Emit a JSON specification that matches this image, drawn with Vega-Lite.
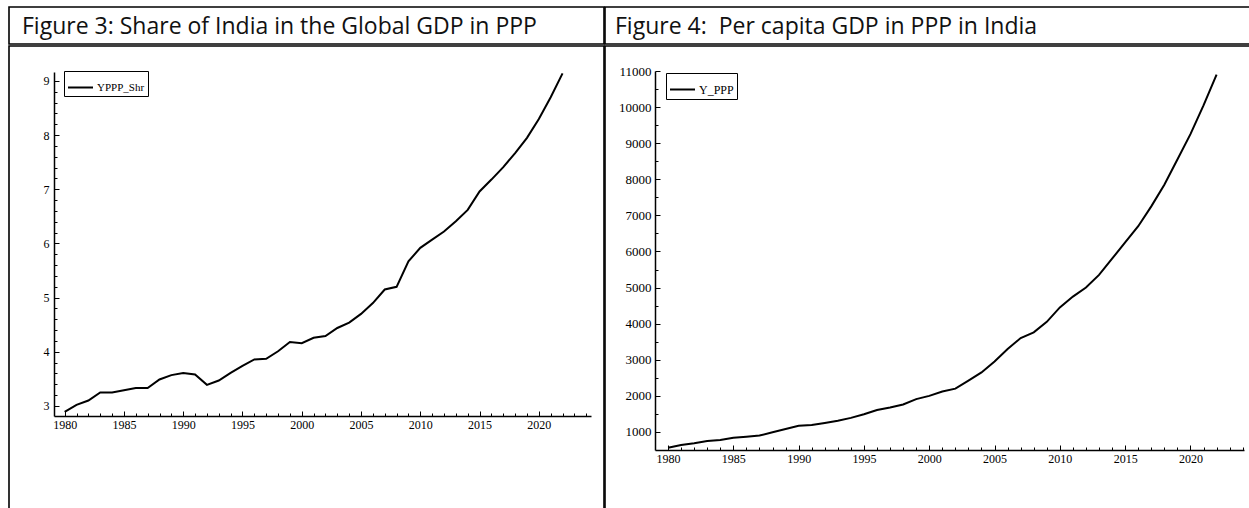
{
  "$schema": "https://vega.github.io/schema/vega-lite/v6.json",
  "padding": {"left": 8, "top": 6, "right": 0, "bottom": 0},
  "background": "white",
  "config": {
    "view": {"stroke": "black", "strokeWidth": 1.6},
    "font": "Liberation Serif"
  },
  "datasets": {
    "india": [
      {"year": 1980, "shr": 2.89, "ppp": 560},
      {"year": 1981, "shr": 3.02, "ppp": 640},
      {"year": 1982, "shr": 3.10, "ppp": 690},
      {"year": 1983, "shr": 3.25, "ppp": 750},
      {"year": 1984, "shr": 3.25, "ppp": 780},
      {"year": 1985, "shr": 3.29, "ppp": 840},
      {"year": 1986, "shr": 3.33, "ppp": 870},
      {"year": 1987, "shr": 3.33, "ppp": 900},
      {"year": 1988, "shr": 3.49, "ppp": 990},
      {"year": 1989, "shr": 3.57, "ppp": 1080},
      {"year": 1990, "shr": 3.61, "ppp": 1170},
      {"year": 1991, "shr": 3.58, "ppp": 1190},
      {"year": 1992, "shr": 3.39, "ppp": 1250},
      {"year": 1993, "shr": 3.47, "ppp": 1310},
      {"year": 1994, "shr": 3.61, "ppp": 1390},
      {"year": 1995, "shr": 3.74, "ppp": 1490},
      {"year": 1996, "shr": 3.86, "ppp": 1610},
      {"year": 1997, "shr": 3.87, "ppp": 1680},
      {"year": 1998, "shr": 4.01, "ppp": 1760},
      {"year": 1999, "shr": 4.18, "ppp": 1910},
      {"year": 2000, "shr": 4.16, "ppp": 2000},
      {"year": 2001, "shr": 4.26, "ppp": 2120},
      {"year": 2002, "shr": 4.29, "ppp": 2200},
      {"year": 2003, "shr": 4.44, "ppp": 2420},
      {"year": 2004, "shr": 4.54, "ppp": 2650},
      {"year": 2005, "shr": 4.70, "ppp": 2950},
      {"year": 2006, "shr": 4.90, "ppp": 3300},
      {"year": 2007, "shr": 5.15, "ppp": 3600},
      {"year": 2008, "shr": 5.20, "ppp": 3760},
      {"year": 2009, "shr": 5.67, "ppp": 4050},
      {"year": 2010, "shr": 5.92, "ppp": 4450},
      {"year": 2011, "shr": 6.07, "ppp": 4750},
      {"year": 2012, "shr": 6.22, "ppp": 5000},
      {"year": 2013, "shr": 6.41, "ppp": 5350},
      {"year": 2014, "shr": 6.62, "ppp": 5800},
      {"year": 2015, "shr": 6.96, "ppp": 6250},
      {"year": 2016, "shr": 7.18, "ppp": 6700},
      {"year": 2017, "shr": 7.41, "ppp": 7250},
      {"year": 2018, "shr": 7.67, "ppp": 7850},
      {"year": 2019, "shr": 7.95, "ppp": 8550},
      {"year": 2020, "shr": 8.30, "ppp": 9250},
      {"year": 2021, "shr": 8.70, "ppp": 10050},
      {"year": 2022, "shr": 9.14, "ppp": 10900}
    ]
  },
  "spacing": -3,
  "resolve": {"scale": {"x": "independent", "y": "independent", "stroke": "independent"}},
  "hconcat": [
    {
      "spacing": 0,
      "resolve": {"scale": {"x": "independent", "y": "independent"}},
      "vconcat": [
        {
          "width": 595,
          "height": 37,
          "data": {"values": [{"t": "Figure 3: Share of India in the Global GDP in PPP"}]},
          "mark": {"type": "text", "align": "left", "baseline": "middle", "font": "Open Sans", "fontSize": 23, "dx": 13, "dy": 1, "color": "#111111"},
          "encoding": {
            "x": {"datum": 0, "type": "quantitative", "scale": {"domain": [0, 1]}, "axis": null},
            "y": {"datum": 0.5, "type": "quantitative", "scale": {"domain": [0, 1]}, "axis": null},
            "text": {"field": "t"}
          }
        },
        {
          "width": 595,
          "height": 470,
          "data": {"name": "india"},
          "mark": {"type": "line", "strokeWidth": 2},
          "encoding": {
            "x": {
              "field": "year", "type": "quantitative",
              "scale": {"domain": [1979.1, 2024.4], "range": [45, 582], "nice": false, "zero": false},
              "axis": {
                "orient": "bottom", "offset": -100, "title": null, "grid": false,
                "values": [1980,1981,1982,1983,1984,1985,1986,1987,1988,1989,1990,1991,1992,1993,1994,1995,1996,1997,1998,1999,2000,2001,2002,2003,2004,2005,2006,2007,2008,2009,2010,2011,2012,2013,2014,2015,2016,2017,2018,2019,2020,2021,2022,2023,2024],
                "format": "d",
                "labelExpr": "datum.value % 5 === 0 ? datum.label : ''",
                "labelOverlap": false, "labelFlush": false,
                "tickSize": {"condition": {"test": "datum.value % 5 === 0", "value": -5}, "value": -3},
                "tickColor": "black", "domainColor": "black", "domainWidth": 1.5,
                "labelFont": "Liberation Serif", "labelFontSize": 12, "labelColor": "black", "labelPadding": 8
              }
            },
            "y": {
              "field": "shr", "type": "quantitative",
              "scale": {"domain": [2.815, 9.166], "range": [370, 26], "nice": false, "zero": false},
              "axis": {
                "orient": "left", "offset": -45, "title": null, "grid": false,
                "values": [3,3.2,3.4,3.6,3.8,4,4.2,4.4,4.6,4.8,5,5.2,5.4,5.6,5.8,6,6.2,6.4,6.6,6.8,7,7.2,7.4,7.6,7.8,8,8.2,8.4,8.6,8.8,9],
                "format": ".0f",
                "labelExpr": "abs(datum.value - round(datum.value)) < 0.001 ? datum.label : ''",
                "labelOverlap": false, "labelFlush": false,
                "tickSize": {"condition": {"test": "abs(datum.value - round(datum.value)) < 0.001", "value": -5}, "value": -3},
                "tickColor": "black", "domainColor": "black", "domainWidth": 1.5,
                "labelFont": "Liberation Serif", "labelFontSize": 12, "labelColor": "black", "labelPadding": 10
              }
            },
            "stroke": {
              "datum": "YPPP_Shr", "type": "nominal",
              "scale": {"range": ["black"]},
              "legend": {
                "orient": "none", "legendX": 55, "legendY": 64, "title": null,
                "symbolType": "M-1,0L1,0", "symbolStrokeWidth": 2, "symbolSize": 625,
                "labelFont": "Liberation Serif", "labelFontSize": 11, "labelColor": "black",
                "strokeColor": "black", "fillColor": "white", "padding": 3, "cornerRadius": 0, "labelOffset": 3
              }
            }
          }
        }
      ]
    },
    {
      "spacing": 0,
      "resolve": {"scale": {"x": "independent", "y": "independent"}},
      "vconcat": [
        {
          "width": 660,
          "height": 37,
          "data": {"values": [{"t": "Figure 4:\u00a0 Per capita GDP in PPP in India"}]},
          "mark": {"type": "text", "align": "left", "baseline": "middle", "font": "Open Sans", "fontSize": 23, "dx": 10, "dy": 1, "color": "#111111"},
          "encoding": {
            "x": {"datum": 0, "type": "quantitative", "scale": {"domain": [0, 1]}, "axis": null},
            "y": {"datum": 0.5, "type": "quantitative", "scale": {"domain": [0, 1]}, "axis": null},
            "text": {"field": "t"}
          }
        },
        {
          "width": 660,
          "height": 470,
          "data": {"name": "india"},
          "mark": {"type": "line", "strokeWidth": 2},
          "encoding": {
            "x": {
              "field": "year", "type": "quantitative",
              "scale": {"domain": [1979, 2024.1], "range": [50, 639], "nice": false, "zero": false},
              "axis": {
                "orient": "bottom", "offset": -66, "title": null, "grid": false,
                "values": [1980,1981,1982,1983,1984,1985,1986,1987,1988,1989,1990,1991,1992,1993,1994,1995,1996,1997,1998,1999,2000,2001,2002,2003,2004,2005,2006,2007,2008,2009,2010,2011,2012,2013,2014,2015,2016,2017,2018,2019,2020,2021,2022,2023,2024],
                "format": "d",
                "labelExpr": "datum.value % 5 === 0 ? datum.label : ''",
                "labelOverlap": false, "labelFlush": false,
                "tickSize": {"condition": {"test": "datum.value % 5 === 0", "value": -5}, "value": -3},
                "tickColor": "black", "domainColor": "black", "domainWidth": 1.5,
                "labelFont": "Liberation Serif", "labelFontSize": 12, "labelColor": "black", "labelPadding": 8
              }
            },
            "y": {
              "field": "ppp", "type": "quantitative",
              "scale": {"domain": [500, 11000], "range": [404, 25], "nice": false, "zero": false},
              "axis": {
                "orient": "left", "offset": -50, "title": null, "grid": false,
                "values": [1000,1500,2000,2500,3000,3500,4000,4500,5000,5500,6000,6500,7000,7500,8000,8500,9000,9500,10000,10500,11000],
                "format": "d",
                "labelExpr": "datum.value % 1000 === 0 ? datum.label : ''",
                "labelOverlap": false, "labelFlush": false,
                "tickSize": {"condition": {"test": "datum.value % 1000 === 0", "value": -5}, "value": -3},
                "tickColor": "black", "domainColor": "black", "domainWidth": 1.5,
                "labelFont": "Liberation Serif", "labelFontSize": 13, "labelColor": "black", "labelPadding": 9
              }
            },
            "stroke": {
              "datum": "Y_PPP", "type": "nominal",
              "scale": {"range": ["black"]},
              "legend": {
                "orient": "none", "legendX": 61, "legendY": 66, "title": null,
                "symbolType": "M-1,0L1,0", "symbolStrokeWidth": 2, "symbolSize": 625,
                "labelFont": "Liberation Serif", "labelFontSize": 12, "labelColor": "black",
                "strokeColor": "black", "fillColor": "white", "padding": 3, "cornerRadius": 0, "labelOffset": 3
              }
            }
          }
        }
      ]
    }
  ]
}
